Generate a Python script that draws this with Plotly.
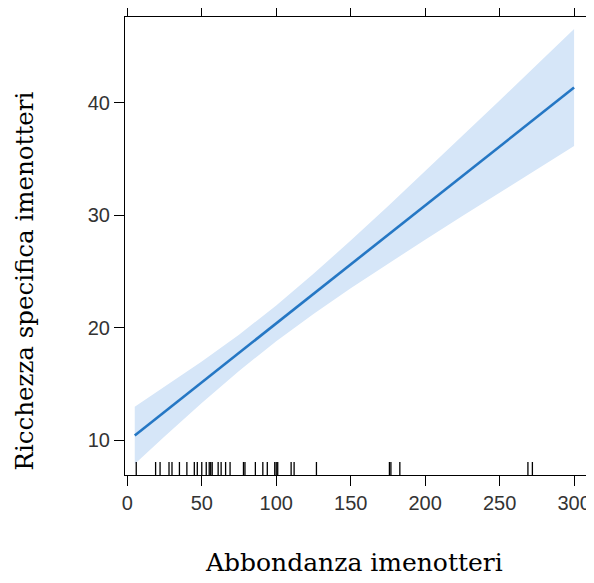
import plotly.graph_objects as go

# ---- data ----
x_grid = [5, 25, 50, 75, 100, 125, 150, 175, 200, 225, 250, 275, 300]
fit = [10.45, 12.55, 15.17, 17.79, 20.41, 23.03, 25.65, 28.27, 30.89, 33.51, 36.13, 38.75, 41.37]
upper = [13.0, 14.75, 17.01, 19.40, 22.0, 24.81, 27.77, 30.82, 33.93, 37.06, 40.22, 43.39, 46.57]
lower = [7.9, 10.35, 13.33, 16.18, 18.82, 21.25, 23.53, 25.72, 27.85, 29.96, 32.04, 34.11, 36.17]
rug_x = [6, 19, 22, 28, 30, 35, 40, 45, 47, 50, 53, 55, 56, 57, 61, 63, 66, 69,
         78, 79, 86, 91, 94, 99, 100, 101, 110, 112, 127, 176, 177, 183, 269, 272]
x_ticks = [0, 50, 100, 150, 200, 250, 300]
y_ticks = [10, 20, 30, 40]
x_title = "Abbondanza imenotteri"
y_title = "Ricchezza specifica imenotteri"

XRANGE = [-1.55, 308.0]
YRANGE = [6.93, 47.64]
# page body has an 8px margin, so the figure is sized/offset to compensate
W, H = 586, 575
ML, MR, MT, MB = 117, 8, 9, 108
plot_h = H - MT - MB
rug_len = 13 * (YRANGE[1] - YRANGE[0]) / plot_h

fig = go.Figure()
fig.add_trace(go.Scatter(x=x_grid + x_grid[::-1], y=upper + lower[::-1], fill="toself",
                         fillcolor="#d6e6f8", line=dict(width=0), mode="lines",
                         hoverinfo="skip", showlegend=False))
fig.add_trace(go.Scatter(x=x_grid, y=fit, mode="lines",
                         line=dict(color="#2577c4", width=2.6), showlegend=False))
rx, ry = [], []
for v in rug_x:
    rx += [v, v, None]
    ry += [YRANGE[0], YRANGE[0] + rug_len, None]
fig.add_trace(go.Scatter(x=rx, y=ry, mode="lines", line=dict(color="black", width=1.3),
                         showlegend=False, hoverinfo="skip"))

axis_common = dict(showline=True, linecolor="black", linewidth=1.2, mirror="ticks",
                   ticks="outside", ticklen=10, tickwidth=1.2, tickcolor="black",
                   showgrid=False, zeroline=False, automargin=False,
                   tickfont=dict(family="Liberation Sans, Arial", size=20, color="#333"))
fig.update_xaxes(range=XRANGE, tickvals=x_ticks, **axis_common)
fig.update_yaxes(range=YRANGE, tickvals=y_ticks, **axis_common)

fig.add_annotation(text=x_title, xref="paper", yref="paper", x=0.497, y=-0.192,
                   xanchor="center", yanchor="middle", showarrow=False,
                   font=dict(family="DejaVu Serif", size=25, color="black"))
fig.add_annotation(text=y_title, xref="paper", yref="paper", x=-0.218, y=0.4236,
                   xanchor="center", yanchor="middle", showarrow=False, textangle=-90,
                   font=dict(family="DejaVu Serif", size=24.5, color="black"))

fig.update_layout(width=W, height=H, margin=dict(l=ML, r=MR, t=MT, b=MB),
                  plot_bgcolor="white", paper_bgcolor="white")
fig.write_html("out.html")
